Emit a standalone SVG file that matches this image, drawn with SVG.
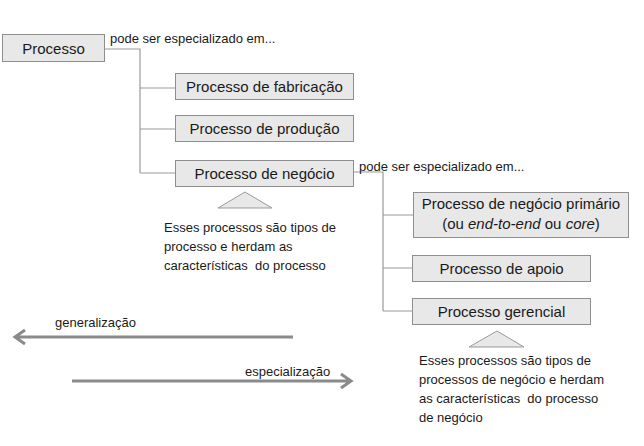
<svg xmlns="http://www.w3.org/2000/svg" width="644" height="446" viewBox="0 0 644 446">
<style>
.box{fill:#e8e8e8;stroke:#8e8e8e;stroke-width:1}
.lbl{font-family:"Liberation Sans",Arial,sans-serif;font-size:15px;fill:#1a1a1a;text-anchor:middle}
.sm{font-family:"Liberation Sans",Arial,sans-serif;font-size:13px;fill:#1a1a1a;white-space:pre}
.con{fill:none;stroke:#9a9a9a;stroke-width:1.2}
.tri{fill:#e8e8e8;stroke:#9a9a9a;stroke-width:1}
.arr{fill:none;stroke:#8a8a8a;stroke-width:3}
</style>
<rect width="644" height="446" fill="#ffffff"/>
<g id="connectors">
<path class="con" d="M105,49 H140 V173 M140,88 H175 M140,129 H175 M140,173 H175"/>
<path class="con" d="M353,172 H383 V311 M383,215 H413 M383,268 H412 M383,311 H412"/>
</g>
<g id="n-processo">
<rect class="box" x="2.5" y="34.5" width="102" height="27"/>
<text class="lbl" x="53.5" y="54">Processo</text>
</g>
<text class="sm" x="110" y="43">pode ser especializado em...</text>
<g id="n-fabricacao">
<rect class="box" x="175.5" y="73.5" width="178" height="26"/>
<text class="lbl" x="264.5" y="92">Processo de fabricação</text>
</g>
<g id="n-producao">
<rect class="box" x="175.5" y="115.5" width="178" height="26"/>
<text class="lbl" x="264.5" y="134">Processo de produção</text>
</g>
<g id="n-negocio">
<rect class="box" x="175.5" y="160.5" width="178" height="26"/>
<text class="lbl" x="264.5" y="179">Processo de negócio</text>
</g>
<text class="sm" x="359" y="171">pode ser especializado em...</text>
<g id="note1">
<polygon class="tri" points="245,192 218,208 272,208"/>
<text class="sm" x="164" y="232">Esses processos são tipos de</text>
<text class="sm" x="164" y="251">processo e herdam as</text>
<text class="sm" x="164" y="270">características  do processo</text>
</g>
<g id="n-primario">
<rect class="box" x="413.5" y="192.5" width="215" height="45"/>
<text class="lbl" x="521" y="209">Processo de negócio primário</text>
<text class="lbl" x="521" y="229">(ou <tspan font-style="italic">end-to-end</tspan> ou <tspan font-style="italic">core</tspan>)</text>
</g>
<g id="n-apoio">
<rect class="box" x="412.5" y="255.5" width="178" height="26"/>
<text class="lbl" x="501.5" y="274">Processo de apoio</text>
</g>
<g id="n-gerencial">
<rect class="box" x="412.5" y="298.5" width="178" height="26"/>
<text class="lbl" x="501.5" y="317">Processo gerencial</text>
</g>
<g id="note2">
<polygon class="tri" points="497,331 469,347 524,347"/>
<text class="sm" x="419" y="365">Esses processos são tipos de</text>
<text class="sm" x="419" y="384">processos de negócio e herdam</text>
<text class="sm" x="419" y="403">as características  do processo</text>
<text class="sm" x="419" y="422">de negócio</text>
</g>
<g id="arrows">
<path class="arr" d="M293,337 H15 M25,330 L15,337 L25,344"/>
<text class="sm" x="55" y="327">generalização</text>
<path class="arr" d="M72,381 H350 M341,374 L351,381 L341,388"/>
<text class="sm" x="245" y="376">especialização</text>
</g>
</svg>
